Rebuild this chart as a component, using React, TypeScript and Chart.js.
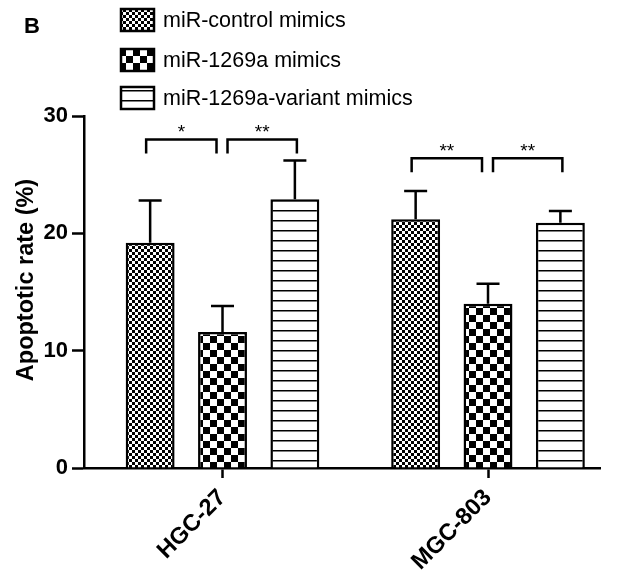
import React, { useEffect, useRef } from 'react';
import { Chart, registerables } from 'chart.js';

Chart.register(...registerables);

const categories = ['HGC-27', 'MGC-803'];
const seriesNames = ['miR-control mimics', 'miR-1269a mimics', 'miR-1269a-variant mimics'];
const controlMeans = [19.2, 21.2];
const controlErrors = [3.6, 2.4];
const mimicMeans = [11.6, 14.0];
const mimicErrors = [2.2, 1.7];
const variantMeans = [22.9, 20.9];
const variantErrors = [3.3, 1.0];
const yTicks = [0, 10, 20, 30];
const bracketLevels = [28.0, 26.4];
const bracketStars = [['*', '**'], ['**', '**']];
const panelLabel = 'B';
const yTitle = 'Apoptotic rate (%)';

const FONT = 'Arial, "Liberation Sans", sans-serif';

function makePattern(kind: string): CanvasPattern | string {
  const c = document.createElement('canvas');
  const ctx = c.getContext('2d');
  if (!ctx) return '#888';
  if (kind === 'fine') {
    c.width = 6; c.height = 6;
    ctx.fillStyle = '#fff'; ctx.fillRect(0, 0, 6, 6);
    ctx.fillStyle = '#000'; ctx.fillRect(0, 0, 3, 3); ctx.fillRect(3, 3, 3, 3);
  } else if (kind === 'coarse') {
    c.width = 14; c.height = 14;
    ctx.fillStyle = '#fff'; ctx.fillRect(0, 0, 14, 14);
    ctx.fillStyle = '#000'; ctx.fillRect(0, 0, 7, 7); ctx.fillRect(7, 7, 7, 7);
  } else {
    c.width = 10; c.height = 10;
    ctx.fillStyle = '#fff'; ctx.fillRect(0, 0, 10, 10);
    ctx.fillStyle = '#000'; ctx.fillRect(0, 0, 10, 1.5);
  }
  return ctx.createPattern(c, 'repeat') as CanvasPattern;
}

export default function App() {
  const ref = useRef<HTMLCanvasElement>(null);

  useEffect(() => {
    if (!ref.current) return;
    const patterns = [makePattern('fine'), makePattern('coarse'), makePattern('lines')];
    const means = [controlMeans, mimicMeans, variantMeans];
    const errors = [controlErrors, mimicErrors, variantErrors];

    const errorBarPlugin = {
      id: 'errorBars',
      afterDatasetsDraw(chart: any) {
        const ctx = chart.ctx;
        const y = chart.scales.y;
        ctx.save();
        ctx.strokeStyle = '#000';
        ctx.lineWidth = 2.5;
        means.forEach((m, di) => {
          const meta = chart.getDatasetMeta(di);
          meta.data.forEach((bar: any, i: number) => {
            const top = y.getPixelForValue(m[i] + errors[di][i]);
            ctx.beginPath();
            ctx.moveTo(bar.x, bar.y);
            ctx.lineTo(bar.x, top);
            ctx.moveTo(bar.x - 11.5, top);
            ctx.lineTo(bar.x + 11.5, top);
            ctx.stroke();
          });
        });
        ctx.restore();
      },
    };

    const bracketPlugin = {
      id: 'brackets',
      afterDatasetsDraw(chart: any) {
        const ctx = chart.ctx;
        const y = chart.scales.y;
        ctx.save();
        ctx.strokeStyle = '#000';
        ctx.lineWidth = 2.5;
        ctx.fillStyle = '#000';
        ctx.font = `19px ${FONT}`;
        ctx.textAlign = 'center';
        ctx.textBaseline = 'alphabetic';
        categories.forEach((_, g) => {
          const b0 = chart.getDatasetMeta(0).data[g];
          const b1 = chart.getDatasetMeta(1).data[g];
          const b2 = chart.getDatasetMeta(2).data[g];
          const top = y.getPixelForValue(bracketLevels[g]);
          const bottom = y.getPixelForValue(bracketLevels[g] - 1.2);
          const spans = [
            [b0.x - 4, b1.x - 6],
            [b1.x + 5, b2.x + 2],
          ];
          spans.forEach(([x1, x2], k) => {
            ctx.beginPath();
            ctx.moveTo(x1, bottom);
            ctx.lineTo(x1, top);
            ctx.lineTo(x2, top);
            ctx.lineTo(x2, bottom);
            ctx.stroke();
            ctx.fillText(bracketStars[g][k], (x1 + x2) / 2, top - 1);
          });
        });
        ctx.restore();
      },
    };

    const decorPlugin = {
      id: 'decor',
      afterDraw(chart: any) {
        const ctx = chart.ctx;
        ctx.save();
        ctx.fillStyle = '#000';
        ctx.font = `bold 22px ${FONT}`;
        ctx.textAlign = 'left';
        ctx.textBaseline = 'alphabetic';
        ctx.fillText(panelLabel, 24, 33);

        const centers = [20, 60, 98];
        seriesNames.forEach((name, i) => {
          const cy = centers[i];
          ctx.fillStyle = patterns[i] as any;
          ctx.fillRect(121, cy - 11, 33, 22);
          ctx.strokeStyle = '#000';
          ctx.lineWidth = 2.5;
          ctx.strokeRect(121, cy - 11, 33, 22);
          ctx.fillStyle = '#000';
          ctx.font = `21.5px ${FONT}`;
          ctx.textBaseline = 'middle';
          ctx.fillText(name, 163, cy + 1);
        });

        ctx.translate(27, 280);
        ctx.rotate(-Math.PI / 2);
        ctx.font = `bold 23.5px ${FONT}`;
        ctx.textAlign = 'center';
        ctx.textBaseline = 'middle';
        ctx.fillText(yTitle, 0, 0);
        ctx.restore();
      },
    };

    const chart = new Chart(ref.current, {
      type: 'bar',
      data: {
        datasets: means.map((m, di) => ({
          label: seriesNames[di],
          data: m.map((v, i) => ({ x: i, y: v })),
          backgroundColor: patterns[di] as any,
          borderColor: '#000',
          borderWidth: 2.5,
          borderSkipped: 'start',
          categoryPercentage: 0.8177,
          barPercentage: 0.676,
        })),
      },
      options: {
        animation: false,
        responsive: false,
        layout: { padding: { top: 116, right: 30, bottom: 0, left: 0 } },
        plugins: {
          legend: { display: false },
          tooltip: { enabled: false },
        },
        scales: {
          x: {
            type: 'linear',
            min: -0.5217,
            max: 1.4218,
            offset: false,
            afterBuildTicks: (scale: any) => {
              scale.ticks = categories.map((_, i) => ({ value: i }));
            },
            afterFit: (scale: any) => { scale.height = 119; },
            grid: {
              offset: false,
              drawOnChartArea: false,
              drawTicks: true,
              tickLength: 10,
              tickWidth: 2.5,
              color: '#000',
            },
            border: { display: true, color: '#000', width: 2.5 },
            ticks: {
              autoSkip: false,
              minRotation: 45,
              maxRotation: 45,
              padding: 6,
              color: '#000',
              font: { family: FONT, size: 23.5, weight: 'bold' },
              callback: (v: any) => categories[v as number] ?? '',
            },
          },
          y: {
            min: 0,
            max: 30,
            afterBuildTicks: (scale: any) => {
              scale.ticks = yTicks.map((v) => ({ value: v }));
            },
            afterFit: (scale: any) => { scale.width = 84; },
            grid: {
              drawOnChartArea: false,
              drawTicks: true,
              tickLength: 12,
              tickWidth: 2.5,
              color: '#000',
            },
            border: { display: true, color: '#000', width: 2.5 },
            ticks: {
              padding: 4,
              color: '#000',
              font: { family: FONT, size: 22, weight: 'bold' },
            },
          },
        },
      } as any,
      plugins: [errorBarPlugin, bracketPlugin, decorPlugin],
    });
    return () => chart.destroy();
  }, []);

  return (
    <div style={{ position: 'absolute', left: 0, top: 0, width: 630, height: 587, background: '#fff' }}>
      <canvas ref={ref} width={630} height={587} style={{ display: 'block' }} />
    </div>
  );
}
